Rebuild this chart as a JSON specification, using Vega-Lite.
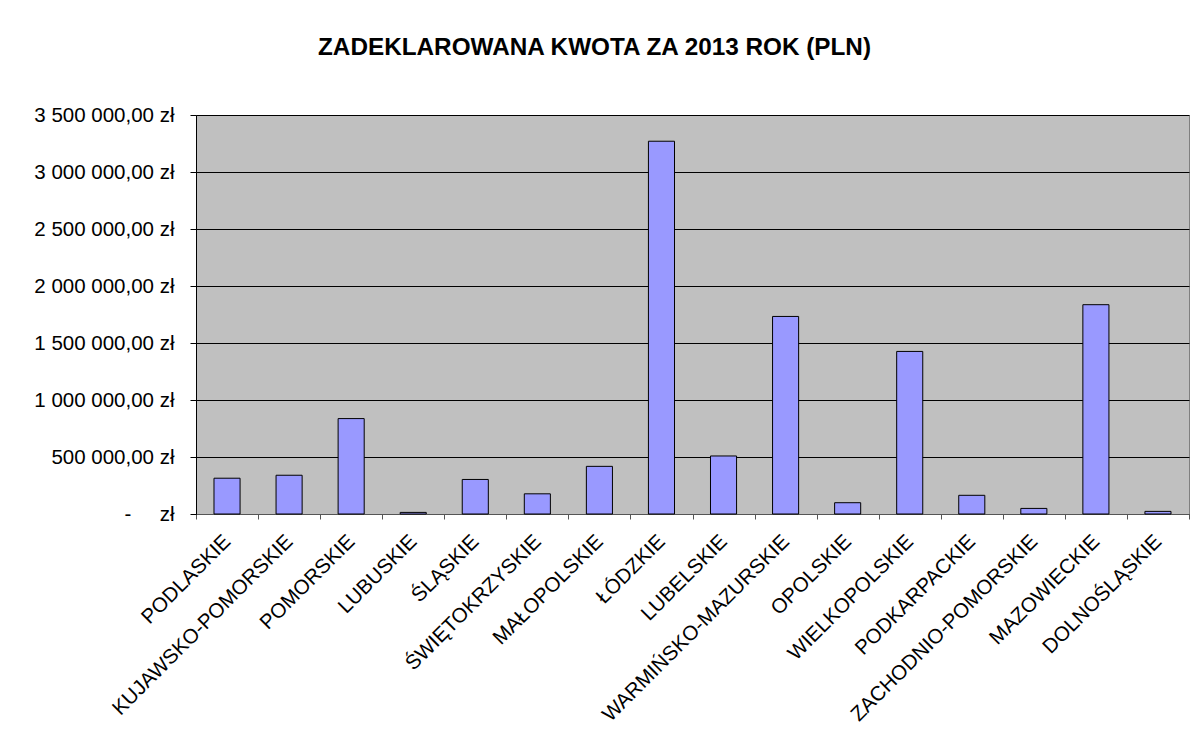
{
  "$schema": "https://vega.github.io/schema/vega-lite/v6.json",
  "autosize": "none",
  "width": 993,
  "height": 399,
  "padding": {"left": 196, "top": 115, "right": 3, "bottom": 217},
  "background": "white",
  "title": {
    "text": "ZADEKLAROWANA KWOTA ZA 2013 ROK (PLN)",
    "font": "Liberation Sans",
    "fontSize": 24.3,
    "fontWeight": "bold",
    "color": "black",
    "anchor": "middle",
    "frame": "group",
    "dx": -98,
    "offset": 45
  },
  "data": {
    "values": [
      {"region": "PODLASKIE", "kwota": 314000},
      {"region": "KUJAWSKO-POMORSKIE", "kwota": 340000},
      {"region": "POMORSKIE", "kwota": 837000},
      {"region": "LUBUSKIE", "kwota": 14000},
      {"region": "ŚLĄSKIE", "kwota": 303000},
      {"region": "ŚWIĘTOKRZYSKIE", "kwota": 177000},
      {"region": "MAŁOPOLSKIE", "kwota": 418000},
      {"region": "ŁÓDZKIE", "kwota": 3270000},
      {"region": "LUBELSKIE", "kwota": 509000},
      {"region": "WARMIŃSKO-MAZURSKIE", "kwota": 1733000},
      {"region": "OPOLSKIE", "kwota": 99000},
      {"region": "WIELKOPOLSKIE", "kwota": 1426000},
      {"region": "PODKARPACKIE", "kwota": 164000},
      {"region": "ZACHODNIO-POMORSKIE", "kwota": 49000},
      {"region": "MAZOWIECKIE", "kwota": 1836000},
      {"region": "DOLNOŚLĄSKIE", "kwota": 23000}
    ]
  },
  "mark": {"type": "bar", "fill": "#9999FF", "stroke": "black", "strokeWidth": 1, "width": {"band": 0.42}},
  "encoding": {
    "x": {
      "field": "region",
      "type": "nominal",
      "sort": null,
      "scale": {"paddingInner": 0, "paddingOuter": 0},
      "axis": {
        "title": null,
        "labelAngle": -45,
        "labelAlign": "right",
        "labelBaseline": "middle",
        "labelFont": "Liberation Sans",
        "labelFontSize": 20.5,
        "labelColor": "black",
        "labelPadding": 19,
        "labelLimit": 400,
        "tickBand": "extent",
        "tickSize": 5,
        "tickColor": "#555555",
        "domainColor": "#555555",
        "grid": false
      }
    },
    "y": {
      "field": "kwota",
      "type": "quantitative",
      "scale": {"domain": [0, 3500000], "nice": false},
      "axis": {
        "title": null,
        "values": [0, 500000, 1000000, 1500000, 2000000, 2500000, 3000000, 3500000],
        "labelExpr": "datum.value == 0 ? '-\u00a0\u00a0\u00a0\u00a0\u00a0zł' : replace(replace(format(datum.value, ',.2f'), regexp(',', 'g'), ' '), '.', ',') + ' zł'",
        "labelFont": "Liberation Sans",
        "labelFontSize": 20.5,
        "labelColor": "black",
        "labelPadding": 16,
        "tickSize": 6,
        "tickColor": "black",
        "domainColor": "black",
        "grid": true,
        "gridColor": "black",
        "gridOpacity": 1,
        "gridWidth": 1
      }
    }
  },
  "config": {
    "view": {"fill": "#C0C0C0", "stroke": "#808080", "strokeWidth": 1}
  }
}
